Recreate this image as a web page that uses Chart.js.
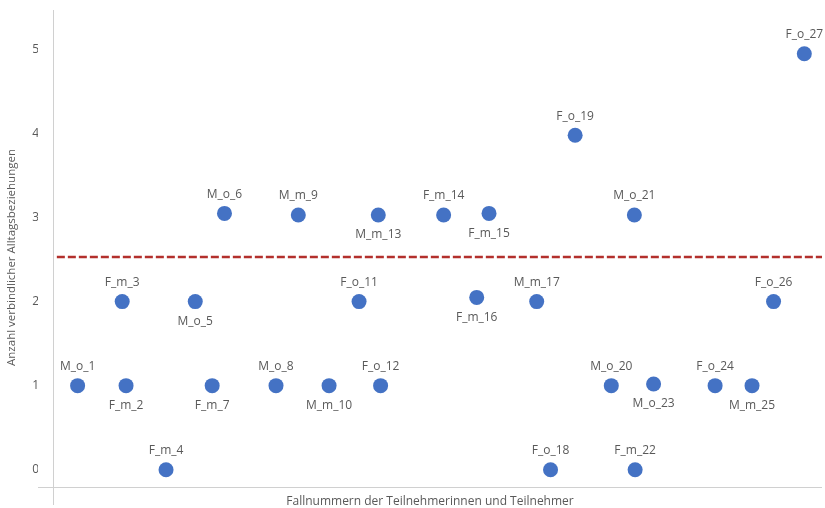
<!DOCTYPE html>
<html lang="de">
<head>
<meta charset="utf-8">
<script src="https://cdn.jsdelivr.net/npm/chart.js@4.4.1/dist/chart.umd.min.js"></script>
<style>
  html, body { margin: 0; padding: 0; background: #ffffff; }
  #wrap { width: 825px; height: 508px; }
</style>
</head>
<body>
<div id="wrap"><canvas id="chart" width="825" height="508"></canvas></div>
<script>
// Fallkennungen der Teilnehmenden
const caseLabels = [
  'M_o_1', 'F_m_2', 'F_m_3', 'F_m_4', 'M_o_5', 'M_o_6', 'F_m_7', 'M_o_8', 'M_m_9',
  'M_m_10', 'F_o_11', 'F_o_12', 'M_m_13', 'F_m_14', 'F_m_15', 'F_m_16', 'M_m_17',
  'F_o_18', 'F_o_19', 'M_o_20', 'M_o_21', 'F_m_22', 'M_o_23', 'F_o_24', 'M_m_25',
  'F_o_26', 'F_o_27'
];
// horizontale Lage der Punkte (ohne Skalenbeschriftung)
const casePositions = [
  3.2, 9.5, 9.0, 14.7, 18.5, 22.3, 20.7, 29.0, 31.9,
  35.9, 39.8, 42.6, 42.3, 50.8, 56.7, 55.1, 62.9,
  64.7, 67.9, 72.6, 75.6, 75.7, 78.1, 86.1, 90.9,
  93.7, 97.7
];
// Anzahl verbindlicher Alltagsbeziehungen je Fall
const relationCounts = [
  1, 1, 2, 0, 2, 3.05, 1, 1, 3.03,
  1, 2, 1, 3.03, 3.03, 3.05, 2.05, 2,
  0, 3.98, 1, 3.03, 0, 1.02, 1, 1,
  2, 4.95
];
// Beschriftung oberhalb (o) oder unterhalb (u) des Punktes
const labelSides = [
  'o', 'u', 'o', 'o', 'u', 'o', 'u', 'o', 'o',
  'u', 'o', 'o', 'u', 'o', 'u', 'u', 'o',
  'o', 'o', 'o', 'o', 'o', 'u', 'o', 'u',
  'o', 'o'
];
// Referenzlinie
const thresholdValue = 2.53;
const thresholdRange = [0.5, 100];
// Achsenbeschriftung der y-Achse
const yTicks = [0, 1, 2, 3, 4, 5];

const FONT = '"Open Sans", "Noto Sans", sans-serif';
const TEXT = '#595959';
const AXIS = '#d0d0d0';
const X_AXIS_AT = -0.2;

const pointData = casePositions.map((x, i) => ({ x, y: relationCounts[i] }));
const lineData = thresholdRange.map(x => ({ x, y: thresholdValue }));

const decorPlugin = {
  id: 'decor',
  beforeDatasetsDraw(chart) {
    const { ctx, chartArea, scales } = chart;
    const x0 = scales.x.getPixelForValue(0);
    const yAxis = scales.y.getPixelForValue(X_AXIS_AT);
    ctx.save();
    ctx.strokeStyle = AXIS;
    ctx.lineWidth = 1;
    ctx.beginPath();
    ctx.moveTo(Math.round(x0) + 0.5, chartArea.top);
    ctx.lineTo(Math.round(x0) + 0.5, chartArea.bottom);
    ctx.moveTo(chartArea.left, Math.round(yAxis) + 0.5);
    ctx.lineTo(chartArea.right, Math.round(yAxis) + 0.5);
    ctx.stroke();
    // Titel der x-Achse
    ctx.fillStyle = TEXT;
    ctx.font = '12px ' + FONT;
    ctx.textAlign = 'center';
    ctx.textBaseline = 'middle';
    ctx.fillText('Fallnummern der Teilnehmerinnen und Teilnehmer',
      (chartArea.left + chartArea.right) / 2, yAxis + 15);
    ctx.restore();
  },
  afterDatasetsDraw(chart) {
    const { ctx } = chart;
    const meta = chart.getDatasetMeta(1);
    ctx.save();
    ctx.fillStyle = TEXT;
    ctx.font = '12px ' + FONT;
    ctx.textAlign = 'center';
    ctx.textBaseline = 'middle';
    meta.data.forEach((pt, i) => {
      const dy = labelSides[i] === 'o' ? -19 : 20;
      ctx.fillText(caseLabels[i], pt.x, pt.y + dy);
    });
    ctx.restore();
  }
};

new Chart(document.getElementById('chart'), {
  type: 'scatter',
  data: {
    datasets: [
      {
        type: 'line',
        data: lineData,
        borderColor: '#b3302c',
        borderWidth: 2.5,
        borderDash: [8, 3],
        pointRadius: 0,
        fill: false
      },
      {
        data: pointData,
        backgroundColor: '#4472c4',
        borderColor: '#4472c4',
        pointRadius: 7.5,
        pointHoverRadius: 7.5,
        borderWidth: 0
      }
    ]
  },
  options: {
    responsive: false,
    animation: false,
    events: [],
    layout: { autoPadding: false, padding: { top: 10, right: 3, bottom: 3, left: 0 } },
    plugins: { legend: { display: false }, tooltip: { enabled: false } },
    scales: {
      x: {
        type: 'linear',
        display: false,
        min: -1.95,
        max: 100
      },
      y: {
        type: 'linear',
        min: -0.42,
        max: 5.47,
        grid: { display: false, drawTicks: false },
        border: { display: false },
        afterBuildTicks(scale) { scale.ticks = yTicks.map(v => ({ value: v })); },
        afterFit(scale) {
          scale.width = 38;
          scale.paddingTop = 0;
          scale.paddingBottom = 0;
        },
        ticks: {
          padding: -1,
          color: TEXT,
          font: { family: FONT, size: 12 }
        },
        title: {
          display: true,
          text: 'Anzahl verbindlicher Alltagsbeziehungen',
          color: TEXT,
          font: { family: FONT, size: 11.5 },
          padding: { top: 5, bottom: 0 }
        }
      }
    }
  },
  plugins: [decorPlugin]
});
</script>
</body>
</html>
